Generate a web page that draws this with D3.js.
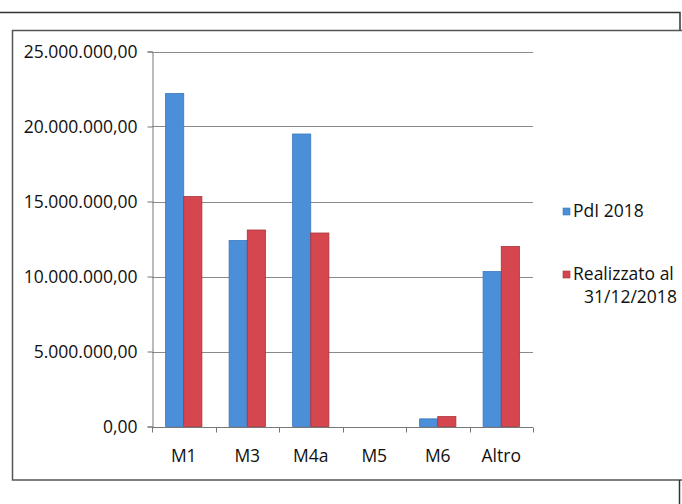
<!DOCTYPE html>
<html>
<head>
<meta charset="utf-8">
<script src="https://cdn.jsdelivr.net/npm/d3@7"></script>
<style>
  html, body { margin: 0; padding: 0; background: #fff; }
  svg { display: block; font-family: "Open Sans", sans-serif; }
</style>
</head>
<body>
<svg id="chart" width="682" height="504"></svg>
<script>
// Categories and series
const categories = ["M1", "M3", "M4a", "M5", "M6", "Altro"];
const seriesNames = ["PdI 2018", "Realizzato al 31/12/2018"];
const pdi2018 = [22200000, 12400000, 19500000, 0, 510000, 10330000];
const realizzato = [15330000, 13100000, 12900000, 0, 660000, 12000000];
const yTicks = [0, 5000000, 10000000, 15000000, 20000000, 25000000];
const colors = ["#4a8fd8", "#d5464f"];
const strokes = ["#3a78c0", "#a8323a"];

const svg = d3.select("#chart");

// Table-style frame lines around the chart
const frame = svg.append("g").attr("fill", "none").attr("stroke", "#333").attr("stroke-width", 1.5);
frame.append("path").attr("d", "M0,12.5 H680 V30");
frame.append("path").attr("d", "M682,30.5 H12.5 V480 H682").attr("stroke", "#555");
frame.append("path").attr("d", "M679.5,480 V504");

// Scales
const y = d3.scaleLinear().domain([0, 25000000]).range([426.5, 51.5]);
const x0 = d3.scaleBand().domain(categories).range([152, 533])
  .paddingInner(0.4286).paddingOuter(0.2143);
const x1 = d3.scaleBand().domain(seriesNames).range([0, x0.bandwidth()]).padding(0);

const fmt = v => {
  const s = d3.format(",.2f")(v);
  return s.replace(/,/g, "#").replace(/\./g, ",").replace(/#/g, ".");
};

// Horizontal gridlines
svg.append("g")
  .selectAll("line")
  .data(yTicks.filter(d => d > 0))
  .join("line")
  .attr("x1", 152).attr("x2", 533)
  .attr("y1", d => Math.round(y(d)) + 0.5).attr("y2", d => Math.round(y(d)) + 0.5)
  .attr("stroke", "#8a8a8a").attr("stroke-width", 1);

// Y axis
const yAxis = d3.axisLeft(y).tickValues(yTicks).tickSize(5).tickPadding(10).tickFormat(fmt);
const gy = svg.append("g").attr("transform", "translate(152.5,0)").call(yAxis);
gy.select(".domain").attr("stroke", "#777");
gy.selectAll(".tick line").attr("stroke", "#777");
gy.selectAll("text").attr("font-size", 17.5).attr("fill", "#111")
  .attr("font-family", "'Open Sans', sans-serif");

// Bars
const data = categories.map((c, i) => ({ cat: c, vals: [pdi2018[i], realizzato[i]] }));
svg.append("g")
  .selectAll("g")
  .data(data)
  .join("g")
  .attr("transform", d => `translate(${x0(d.cat)},0)`)
  .selectAll("rect")
  .data(d => d.vals.map((v, j) => ({ v, j })))
  .join("rect")
  .attr("x", d => x1(seriesNames[d.j]))
  .attr("width", x1.bandwidth())
  .attr("y", d => y(d.v))
  .attr("height", d => y(0) - y(d.v))
  .attr("fill", d => colors[d.j])
  .attr("stroke", d => d.v > 0 ? strokes[d.j] : "none")
  .attr("stroke-width", 0.8);

// X axis with ticks at category boundaries
const gx = svg.append("g").attr("transform", `translate(0,${Math.round(y(0)) + 0.5})`);
gx.append("line").attr("x1", 152).attr("x2", 533).attr("stroke", "#777");
const bounds = d3.range(categories.length + 1).map(i => 152 + i * x0.step());
gx.selectAll("line.tk").data(bounds).join("line").attr("class", "tk")
  .attr("x1", d => Math.round(d) + 0.5).attr("x2", d => Math.round(d) + 0.5)
  .attr("y1", 0).attr("y2", 5).attr("stroke", "#777");
gx.selectAll("text").data(categories).join("text")
  .attr("x", d => x0(d) + x0.bandwidth() / 2)
  .attr("y", 34)
  .attr("text-anchor", "middle")
  .attr("font-size", 17.5)
  .attr("fill", "#111")
  .text(d => d);

// Legend
const legend = svg.append("g");
const legendRows = [
  { lines: ["PdI 2018"], sq: 208, base: 217 },
  { lines: ["Realizzato al", "31/12/2018"], sq: 271, base: 280 }
];
legendRows.forEach((r, i) => {
  legend.append("rect").attr("x", 563).attr("y", r.sq).attr("width", 7).attr("height", 7)
    .attr("fill", colors[i]).attr("stroke", strokes[i]).attr("stroke-width", 0.6);
  r.lines.forEach((t, k) => {
    legend.append("text")
      .attr("x", k === 0 ? 573 : 584)
      .attr("y", r.base + k * 23)
      .attr("font-size", 17.5)
      .attr("fill", "#111")
      .text(t);
  });
});
</script>
</body>
</html>
